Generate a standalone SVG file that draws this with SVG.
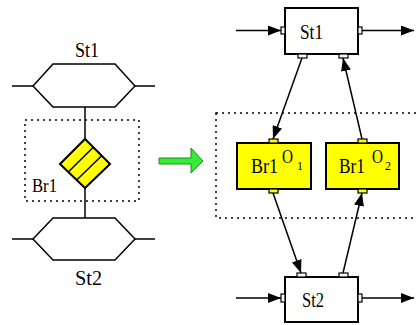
<svg xmlns="http://www.w3.org/2000/svg" width="416" height="325" viewBox="0 0 416 325">
<style>
.ln{stroke:#000;stroke-width:1.5;fill:none}
.box{fill:#fff;stroke:#000;stroke-width:2}
.ybox{fill:#ffff00;stroke:#000;stroke-width:2}
.port{fill:#fff;stroke:#000;stroke-width:1.2}
.yport{fill:#ffff00;stroke:#000;stroke-width:1.2}
.dot{fill:none;stroke:#000;stroke-width:1.5;stroke-dasharray:2 4}
</style>
<defs>
<marker id="ah" markerUnits="userSpaceOnUse" markerWidth="13" markerHeight="10" refX="13" refY="5" orient="auto">
<path d="M0,0 L13,5 L0,10 z" fill="#000"/>
</marker>
</defs>
<rect width="416" height="325" fill="#fff"/>

<g id="left-st1">
<polygon class="ln" points="33,86 53,64 115,64 135,86 115,107 53,107"/>
<line class="ln" x1="12" y1="86" x2="33" y2="86"/>
<line class="ln" x1="135" y1="86" x2="155" y2="86"/>
<text x="75" y="57" font-family="Liberation Serif, serif" font-size="20" textLength="24" lengthAdjust="spacingAndGlyphs">St1</text>
</g>
<g id="left-st2">
<polygon class="ln" points="33,239 53,218 115,218 135,239 115,260 53,260"/>
<line class="ln" x1="12" y1="239" x2="33" y2="239"/>
<line class="ln" x1="135" y1="239" x2="155" y2="239"/>
<text x="75" y="285" font-family="Liberation Serif, serif" font-size="20" textLength="27" lengthAdjust="spacingAndGlyphs">St2</text>
</g>
<g id="left-br1">
<rect class="dot" x="25" y="120" width="114" height="81"/>
<polygon points="85,139 110,164 85,188 60,164" fill="#ffff00" stroke="#000" stroke-width="2"/>
<line class="ln" x1="68.3" y1="172" x2="93.3" y2="147.3" stroke-width="2"/>
<line class="ln" x1="76.7" y1="180" x2="101.7" y2="155.7" stroke-width="2"/>
<text x="32" y="192" font-family="Liberation Serif, serif" font-size="18" textLength="25" lengthAdjust="spacingAndGlyphs">Br1</text>
</g>
<g id="left-connectors">
<line class="ln" x1="85" y1="107" x2="85" y2="139"/>
<line class="ln" x1="85" y1="188" x2="85" y2="218"/>
</g>

<g id="transform-arrow">
<polygon points="159,158 191,158 191,148 203,161 191,173 191,164 159,164" fill="#33ee33" stroke="#228822" stroke-width="1"/>
</g>

<rect class="dot" x="216" y="113" width="220" height="105"/>
<g id="St1">
<rect class="box" x="285" y="8" width="73" height="46"/>
<rect class="port" x="281" y="27" width="4" height="7"/>
<rect class="port" x="358" y="27" width="4" height="7"/>
<rect class="port" x="298" y="54" width="9" height="4"/>
<rect class="port" x="339" y="54" width="9" height="4"/>
<text x="300" y="39" font-family="Liberation Serif, serif" font-size="20" textLength="23" lengthAdjust="spacingAndGlyphs">St1</text>
</g>
<g id="Br1O1">
<rect class="ybox" x="237" y="143" width="74" height="46"/>
<rect class="yport" x="269" y="139" width="9" height="4"/>
<rect class="yport" x="269" y="189" width="9" height="4"/>
<text x="251" y="173" font-family="Liberation Serif, serif" font-size="20" textLength="27" lengthAdjust="spacingAndGlyphs">Br1</text>
<text x="282" y="163" font-family="Liberation Serif, serif" font-size="18" textLength="11" lengthAdjust="spacingAndGlyphs">O</text>
<text x="297" y="170" font-family="Liberation Serif, serif" font-size="12">1</text>
</g>
<g id="Br1O2">
<rect class="ybox" x="326" y="143" width="73" height="46"/>
<rect class="yport" x="358" y="139" width="9" height="4"/>
<rect class="yport" x="358" y="189" width="9" height="4"/>
<text x="339" y="173" font-family="Liberation Serif, serif" font-size="20" textLength="26" lengthAdjust="spacingAndGlyphs">Br1</text>
<text x="372" y="163" font-family="Liberation Serif, serif" font-size="18" textLength="11" lengthAdjust="spacingAndGlyphs">O</text>
<text x="385" y="170" font-family="Liberation Serif, serif" font-size="12">2</text>
</g>
<g id="St2">
<rect class="box" x="285" y="277" width="73" height="45"/>
<rect class="port" x="281" y="294" width="4" height="8"/>
<rect class="port" x="358" y="294" width="4" height="8"/>
<rect class="port" x="297" y="273" width="9" height="4"/>
<rect class="port" x="339" y="273" width="9" height="4"/>
<text x="302" y="307" font-family="Liberation Serif, serif" font-size="20" textLength="22" lengthAdjust="spacingAndGlyphs">St2</text>
</g>
<g id="connectors">
<line class="ln" x1="236" y1="30.5" x2="281" y2="30.5" marker-end="url(#ah)"/>
<line class="ln" x1="362" y1="30.5" x2="414" y2="30.5" marker-end="url(#ah)"/>
<line class="ln" x1="302" y1="58" x2="273" y2="139" marker-end="url(#ah)"/>
<line class="ln" x1="362" y1="139" x2="343" y2="58" marker-end="url(#ah)"/>
<line class="ln" x1="273" y1="193" x2="301" y2="273" marker-end="url(#ah)"/>
<line class="ln" x1="343" y1="273" x2="362" y2="193" marker-end="url(#ah)"/>
<line class="ln" x1="236" y1="298" x2="281" y2="298" marker-end="url(#ah)"/>
<line class="ln" x1="362" y1="298" x2="414" y2="298" marker-end="url(#ah)"/>
</g>
</svg>
